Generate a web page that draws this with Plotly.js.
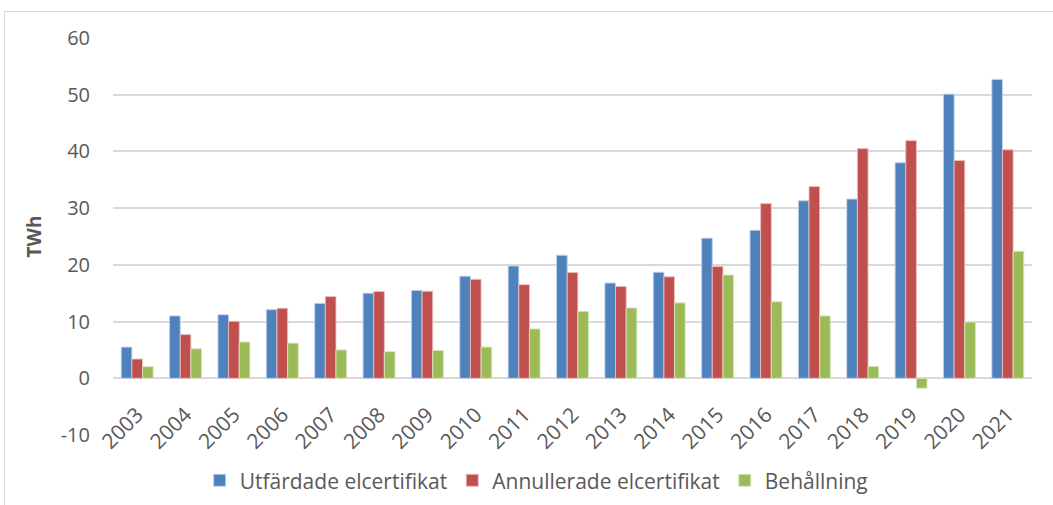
<!DOCTYPE html>
<html>
<head>
<meta charset="utf-8">
<script src="https://cdn.plot.ly/plotly-3.0.1.min.js"></script>
<style>
html,body{margin:0;padding:0;background:#fff;}
#frame{position:absolute;left:4px;top:11px;width:1100px;height:600px;border:1px solid #D9D9D9;box-sizing:border-box;}
#chart{position:absolute;left:0;top:0;width:1053px;height:505px;}
</style>
</head>
<body>
<div id="frame"></div>
<div id="chart"></div>
<script>
const years = ['2003','2004','2005','2006','2007','2008','2009','2010','2011','2012','2013','2014','2015','2016','2017','2018','2019','2020','2021'];
const utfardade = [5.5, 11.0, 11.2, 12.1, 13.2, 15.0, 15.5, 18.0, 19.8, 21.7, 16.8, 18.7, 24.7, 26.1, 31.3, 31.6, 38.0, 50.1, 52.7];
const annullerade = [3.4, 7.7, 10.05, 12.35, 14.4, 15.3, 15.35, 17.45, 16.5, 18.65, 16.2, 17.9, 19.7, 30.8, 33.8, 40.5, 41.9, 38.4, 40.3];
const behallning = [2.05, 5.2, 6.4, 6.2, 5.0, 4.7, 4.9, 5.5, 8.7, 11.8, 12.4, 13.3, 18.2, 13.5, 11.0, 2.1, -1.75, 9.9, 22.4];
const seriesNames = ['Utfärdade elcertifikat', 'Annullerade elcertifikat', 'Behållning'];
const yTicks = [-10, 0, 10, 20, 30, 40, 50, 60];

const colors = ['#4F81BD', '#C0504D', '#9BBB59'];
const lineColors = ['rgba(190,210,235,0.9)', 'rgba(235,190,190,0.9)', 'rgba(215,230,190,0.9)'];
const font = "'Open Sans', 'Noto Sans', sans-serif";

const data = [utfardade, annullerade, behallning].map((vals, i) => ({
  type: 'bar',
  name: seriesNames[i],
  x: years,
  y: vals,
  marker: {color: colors[i], line: {color: lineColors[i], width: 1}},
  hoverinfo: 'x+y+name'
}));

const layout = {
  width: 1053,
  height: 505,
  margin: {l: 113, r: 21, t: 38, b: 70, autoexpand: false},
  paper_bgcolor: 'rgba(0,0,0,0)',
  plot_bgcolor: 'rgba(0,0,0,0)',
  barmode: 'group',
  bargap: 0.34,
  bargroupgap: 0,
  font: {family: font, color: '#595959', size: 18},
  xaxis: {
    type: 'category',
    anchor: 'free',
    position: 0.095,
    tickangle: -45,
    tickfont: {family: font, size: 21, color: '#595959'},
    showgrid: false,
    showline: false,
    zeroline: false,
    ticks: '',
    automargin: false
  },
  yaxis: {
    range: [-10, 60],
    tickvals: yTicks,
    ticktext: yTicks.map(String),
    tickfont: {family: font, size: 20, color: '#595959'},
    showgrid: true,
    gridcolor: '#D9D9D9',
    gridwidth: 1.5,
    zeroline: true,
    zerolinecolor: '#D9D9D9',
    zerolinewidth: 1.5,
    showline: false,
    ticks: '',
    ticklabelstandoff: 22,
    automargin: false,
    title: {text: '<b>TWh</b>', font: {family: font, size: 19, color: '#595959'}, standoff: 14}
  },
  legend: {
    orientation: 'h',
    x: 0.461,
    xanchor: 'center',
    y: -0.115,
    yanchor: 'middle',
    font: {family: font, size: 21, color: '#595959'},
    itemwidth: 30,
    traceorder: 'normal'
  },
  showlegend: true
};

Plotly.newPlot('chart', data, layout, {displayModeBar: false, responsive: false});
</script>
</body>
</html>
